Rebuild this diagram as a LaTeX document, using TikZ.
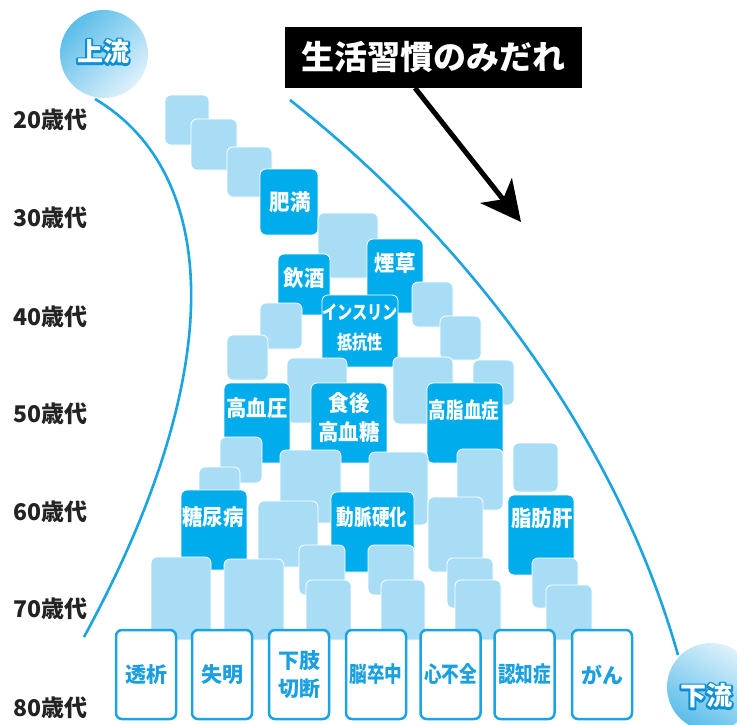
\documentclass[tikz,border=0pt]{standalone}
\usepackage{fontspec}
\usetikzlibrary{arrows.meta}
\newfontfamily\jp{Noto Sans CJK JP}
\newfontfamily\jpc[FakeStretch=0.93]{Noto Sans CJK JP}
\newfontfamily\jpcc[FakeStretch=0.8]{Noto Sans CJK JP}
\definecolor{dblue}{HTML}{00ACEC}
\definecolor{lblue}{HTML}{A9DDF5}
\definecolor{lineblue}{HTML}{1BA3E2}
\definecolor{tblue}{HTML}{1A9FE0}
\definecolor{agegray}{HTML}{232323}
\definecolor{circA}{HTML}{5BBDEA}
\definecolor{circB}{HTML}{DDF1FB}
\newcommand\strk[1]{\special{pdf:literal direct 1 Tr 4 w 1 J 1 j 0.04 0.56 0.84 RG}#1\special{pdf:literal direct 0 Tr}}
\newcommand\blk[6]{\node[#1, minimum width={#5-#3}, minimum height={#6-#4}] (#2) at ({(#3+#5)/2},{(#4+#6)/2}) {};}
\tikzset{
  lb/.style={rectangle, fill=lblue, draw=white, line width=0.8pt, rounded corners=6pt, inner sep=0pt, outer sep=0pt},
  db/.style={lb, fill=dblue},
  wt/.style={text=white, font=\jpc\bfseries\fontsize{22pt}{29pt}\selectfont, inner sep=0pt, align=center},
  wtn/.style={wt, font=\jpcc\bfseries\fontsize{22pt}{29pt}\selectfont},
  bx/.style={rectangle, draw=lineblue, line width=2.5pt, fill=white, rounded corners=6pt, minimum width=60pt, minimum height=89pt, inner sep=0pt},
  bt/.style={text=tblue, font=\jp\bfseries\fontsize{21pt}{28pt}\selectfont, inner sep=0pt, align=center},
  btc/.style={text=tblue, font=\jpcc\bfseries\fontsize{22pt}{28pt}\selectfont, inner sep=0pt, align=center},
  age/.style={text=agegray, font=\jp\bfseries\fontsize{23pt}{26pt}\selectfont, anchor=west, inner sep=0pt},
  curve/.style={draw=lineblue, line width=2.6pt},
  flow/.style={text=white, font=\jp\bfseries\fontsize{26pt}{28pt}\selectfont, inner sep=0pt}
}
\begin{document}
\begin{tikzpicture}[x=1pt,y=-1pt]
\useasboundingbox (0,0) rectangle (737,724);
\clip (0,0) rectangle (737,724);
\fill[white] (0,0) rectangle (737,724);

% curves
\coordinate (lc0) at (95,99);
\coordinate (lc1) at (84,637);
\coordinate (rc0) at (290,100);
\coordinate (rc1) at (678,655);
\draw[curve] (lc0) .. controls (215,170) and (235,360) .. (lc1);
\draw[curve] (rc0) .. controls (480,250) and (620,450) .. (rc1);

% circles
\node[circle, minimum size=88pt, inner sep=0pt, top color=circA, bottom color=circB, shading angle=45] (up) at (104,54) {};
\node[flow] (upo) at (103,52) {\strk{上流}};
\node[flow] (upt) at (103,52) {上流};
\node[circle, minimum size=88pt, inner sep=0pt, top color=circB, bottom color=circA, shading angle=-30] (down) at (711,687) {};
\node[flow] (downo) at (706,696) {\strk{下流}};
\node[flow] (downt) at (706,696) {下流};

% title and arrow
\node[rectangle, fill=black, minimum width=297pt, minimum height=61pt, inner sep=0pt] (title) at (433.5,57.5) {};
\node[text=white, font=\jp\bfseries\fontsize{33pt}{36pt}\selectfont, inner sep=0pt] (titlet) at (433,57) {生活習慣のみだれ};
\coordinate (atip) at (521,222);
\draw[line width=5pt, -{Stealth[length=40pt, width=40pt, inset=11pt]}] (415,88) -- (atip);

% age labels
\node[age] (a20) at (13,120) {20歳代};
\node[age] (a30) at (13,218) {30歳代};
\node[age] (a40) at (13,317) {40歳代};
\node[age] (a50) at (13,414) {50歳代};
\node[age] (a60) at (13,512) {60歳代};
\node[age] (a70) at (13,609) {70歳代};
\node[age] (a80) at (13,708) {80歳代};

% blocks
\blk{lb}{bA}{165}{95}{209}{145}
\blk{lb}{bB}{191}{119}{237}{170}
\blk{lb}{bC}{227}{147}{272}{197}
\blk{db}{himan}{260}{169}{318}{235}
\blk{lb}{bD}{318}{213}{378}{278}
\blk{db}{tabako}{367}{239}{423}{313}
\blk{db}{inshu}{278}{254}{330}{315}
\blk{lb}{bF}{260}{303}{302}{349}
\blk{lb}{bG}{227}{335}{268}{380}
\blk{db}{insulin}{322}{295}{398}{367}
\blk{lb}{bE}{412}{282}{453}{327}
\blk{lb}{bH}{287}{358}{347}{423}
\blk{lb}{bJ}{440}{316}{481}{360}
\blk{lb}{bI}{393}{357}{453}{424}
\blk{lb}{bK}{473}{360}{514}{405}
\blk{db}{ketsuatsu}{224}{383}{290}{463}
\blk{db}{shokugo}{311}{383}{387}{463}
\blk{db}{koshi}{427}{383}{503}{463}
\blk{lb}{bX}{220}{437}{262}{483}
\blk{lb}{bY}{199}{467}{240}{500}
\blk{lb}{bCC}{280}{450}{341}{523}
\blk{lb}{bS}{369}{452}{428}{525}
\blk{lb}{bL}{457}{449}{503}{510}
\blk{lb}{bM}{513}{443}{558}{492}
\blk{db}{tonyo}{181}{490}{247}{570}
\blk{lb}{bBB}{258}{501}{318}{567}
\blk{db}{domyaku}{331}{492}{414}{572}
\blk{lb}{bN}{428}{497}{483}{572}
\blk{db}{shibo}{508}{495}{574}{575}
\blk{lb}{bV}{299}{545}{345}{595}
\blk{lb}{bU}{368}{545}{414}{595}
\blk{lb}{bO}{447}{558}{493}{608}
\blk{lb}{bQ}{532}{558}{578}{608}
\blk{lb}{bW}{306}{580}{351}{640}
\blk{lb}{bT}{381}{580}{425}{640}
\blk{lb}{bP}{455}{580}{501}{640}
\blk{lb}{bR}{546}{585}{592}{640}
\blk{lb}{bZ}{151}{557}{211}{640}
\blk{lb}{bAA}{224}{559}{284}{640}

% block texts
\node[wt] (himant) at (290,202) {肥満};
\node[wt] (tabakot) at (395,263) {煙草};
\node[wt] (inshut) at (304,278) {飲酒};
\node[wt, font=\jpcc\bfseries\fontsize{19pt}{30pt}\selectfont] (insulint) at (360,328) {インスリン\\抵抗性};
\node[wt] (ketsuatsut) at (257,408) {高血圧};
\node[wt] (shokugot) at (349,418) {食後\\高血糖};
\node[wtn] (koshit) at (464,410) {高脂血症};
\node[wt] (tonyot) at (213,517) {糖尿病};
\node[wtn] (domyakut) at (372,517) {動脈硬化};
\node[wt] (shibot) at (542,518) {脂肪肝};

% bottom boxes
\node[bx] (t1) at (146,674.5) {};
\node[bx] (t2) at (222,674.5) {};
\node[bx] (t3) at (299,674.5) {};
\node[bx] (t4) at (376,674.5) {};
\node[bx] (t5) at (450.5,674.5) {};
\node[bx] (t6) at (524.5,674.5) {};
\node[bx] (t7) at (602,674.5) {};
\node[bt] (t1t) at (t1) {透析};
\node[bt] (t2t) at (t2) {失明};
\node[bt] (t3t) at (t3) {下肢\\切断};
\node[btc] (t4t) at (t4) {脳卒中};
\node[btc] (t5t) at (t5) {心不全};
\node[btc] (t6t) at (t6) {認知症};
\node[bt] (t7t) at (t7) {がん};
\end{tikzpicture}
\end{document}
